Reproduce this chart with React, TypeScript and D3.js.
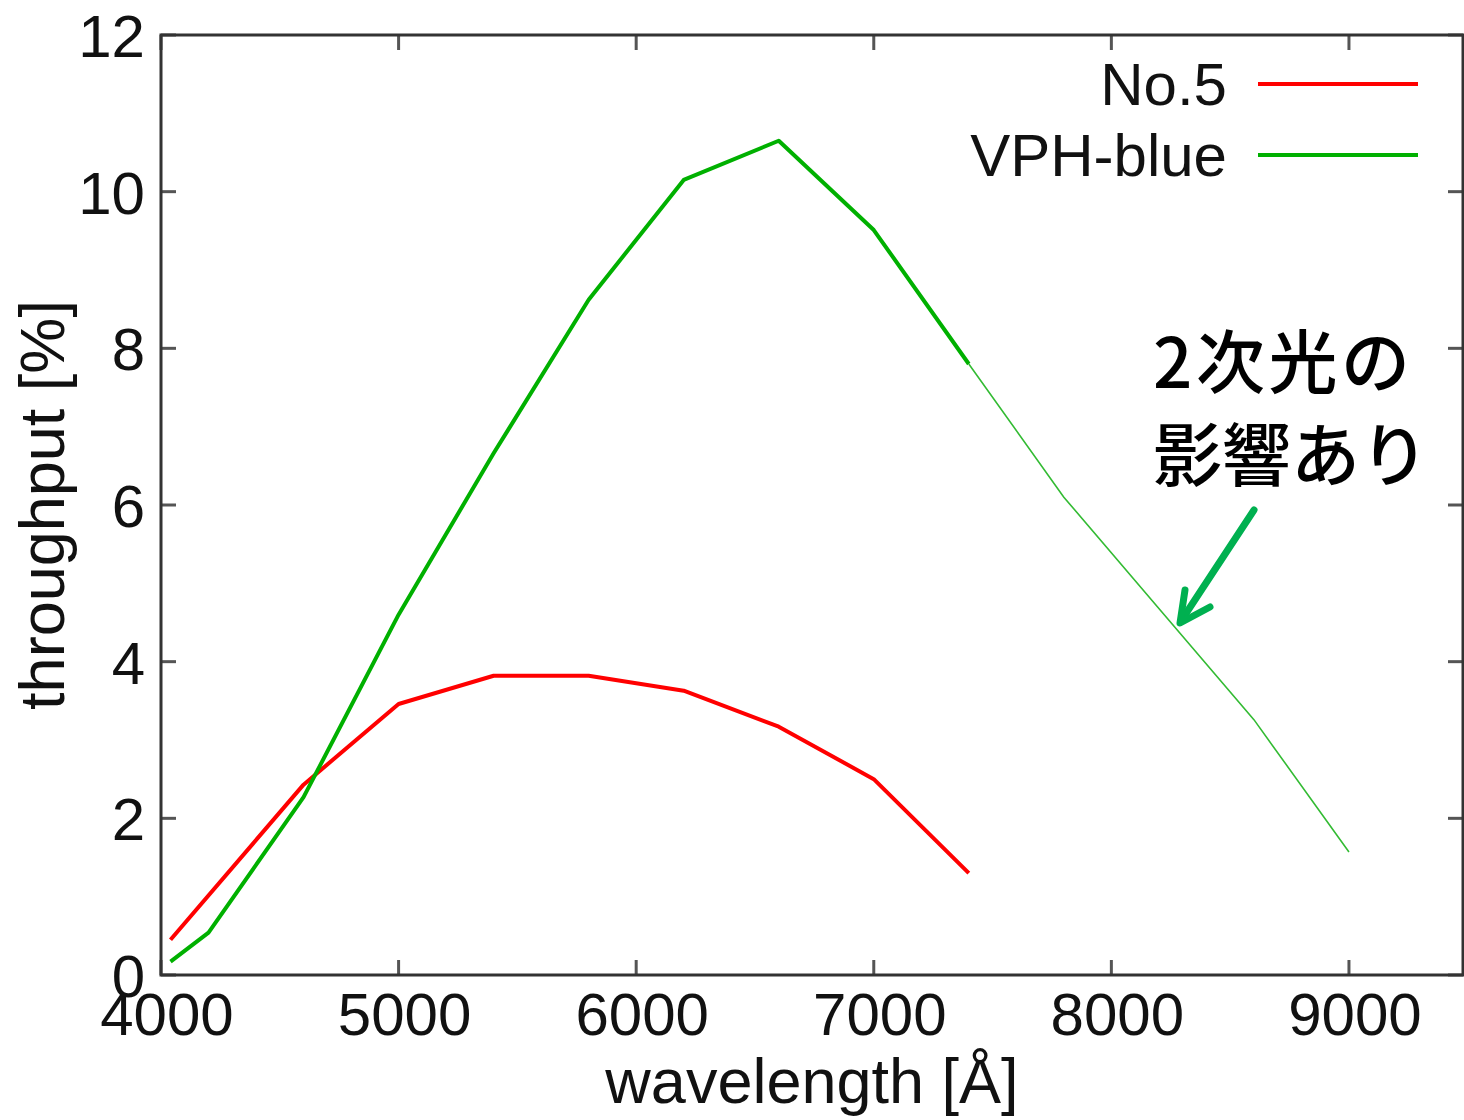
import React from "react";
import * as d3 from "d3";

// wavelength [Å] and throughput [%]
const no5Wave = [4040, 4600, 5000, 5400, 5800, 6200, 6600, 7000, 7400];
const no5Value = [0.45, 2.43, 3.46, 3.82, 3.82, 3.63, 3.17, 2.5, 1.3];

const vphWave = [4040, 4200, 4600, 5000, 5400, 5800, 6200, 6600, 7000, 7400];
const vphValue = [0.17, 0.54, 2.27, 4.6, 6.66, 8.62, 10.15, 10.65, 9.51, 7.8];

// second-order affected part (thin line)
const vph2Wave = [7400, 7800, 8200, 8600, 9000];
const vph2Value = [7.8, 6.1, 4.68, 3.26, 1.57];

const xTicks = [4000, 5000, 6000, 7000, 8000, 9000];
const yTicks = [0, 2, 4, 6, 8, 10, 12];

const W = 1464;
const H = 1120;
const margin = { top: 35, right: 1, bottom: 145, left: 161 };
const font = "'Liberation Sans', Arial, sans-serif";

const App = () => {
  const x = d3
    .scaleLinear()
    .domain([4000, 9480])
    .range([margin.left, W - margin.right]);
  const y = d3
    .scaleLinear()
    .domain([0, 12])
    .range([H - margin.bottom, margin.top]);

  const line = d3
    .line<[number, number]>()
    .x((d) => x(d[0]))
    .y((d) => y(d[1]));

  const zip = (a: number[], b: number[]) =>
    a.map((v, i) => [v, b[i]] as [number, number]);

  const x0 = x.range()[0];
  const x1 = x.range()[1];
  const y0 = y.range()[0];
  const y1 = y.range()[1];
  const tickLen = 15;

  return (
    <svg
      width={W}
      height={H}
      style={{ position: "absolute", left: 0, top: 0, background: "#fff" }}
    >
      {/* ticks */}
      <g stroke="#555" strokeWidth={3}>
        {xTicks.map((t) => (
          <g key={"xt" + t}>
            <line x1={x(t)} x2={x(t)} y1={y0} y2={y0 - tickLen} />
            <line x1={x(t)} x2={x(t)} y1={y1} y2={y1 + tickLen} />
          </g>
        ))}
        {yTicks.map((t) => (
          <g key={"yt" + t}>
            <line x1={x0} x2={x0 + tickLen} y1={y(t)} y2={y(t)} />
            <line x1={x1} x2={x1 - tickLen} y1={y(t)} y2={y(t)} />
          </g>
        ))}
      </g>

      {/* data lines */}
      <path
        d={line(zip(no5Wave, no5Value)) || ""}
        fill="none"
        stroke="#ff0000"
        strokeWidth={4}
        strokeLinejoin="round"
      />
      <path
        d={line(zip(vphWave, vphValue)) || ""}
        fill="none"
        stroke="#00b000"
        strokeWidth={4}
        strokeLinejoin="round"
      />
      <path
        d={line(zip(vph2Wave, vph2Value)) || ""}
        fill="none"
        stroke="#33bb33"
        strokeWidth={1.6}
      />

      {/* frame */}
      <rect
        x={x0}
        y={y1}
        width={x1 - x0}
        height={y0 - y1}
        fill="none"
        stroke="#333"
        strokeWidth={3}
      />

      {/* tick labels */}
      <g fontFamily={font} fontSize={60} fill="#111">
        {xTicks.map((t) => (
          <text key={"xl" + t} x={x(t) + 6} y={1035} textAnchor="middle">
            {t}
          </text>
        ))}
        {yTicks.map((t) => (
          <text
            key={"yl" + t}
            x={145}
            y={y(t) + 22}
            textAnchor="end"
          >
            {t}
          </text>
        ))}
      </g>

      {/* axis titles */}
      <text
        x={(x0 + x1) / 2}
        y={1103}
        textAnchor="middle"
        fontFamily={font}
        fontSize={63}
        fill="#111"
      >
        wavelength [Å]
      </text>
      <text
        transform={`translate(64, ${(y0 + y1) / 2}) rotate(-90)`}
        textAnchor="middle"
        fontFamily={font}
        fontSize={63}
        fill="#111"
      >
        throughput [%]
      </text>

      {/* legend */}
      <g fontFamily={font} fontSize={60} fill="#111">
        <text x={1227} y={105} textAnchor="end">
          No.5
        </text>
        <line x1={1258} x2={1418} y1={84} y2={84} stroke="#ff0000" strokeWidth={4} />
        <text x={1227} y={176} textAnchor="end">
          VPH-blue
        </text>
        <line x1={1258} x2={1418} y1={155} y2={155} stroke="#00b000" strokeWidth={4} />
      </g>

      {/* annotation */}
      <g
        fontFamily="'Noto Sans CJK JP', sans-serif"
        fontSize={69}
        fontWeight={500}
        fill="#000"
      >
        <text x={1153} y={388} textLength={257} lengthAdjust="spacing">
          2次光の
        </text>
        <text x={1153} y={481}>影響あり</text>
      </g>
      <g
        stroke="#00b050"
        strokeWidth={7}
        strokeLinecap="round"
        strokeLinejoin="round"
        fill="none"
      >
        <line x1={1254} y1={510} x2={1181} y2={621} />
        <polyline points="1185,590 1180,623 1210,607" />
      </g>
    </svg>
  );
};

export default App;
